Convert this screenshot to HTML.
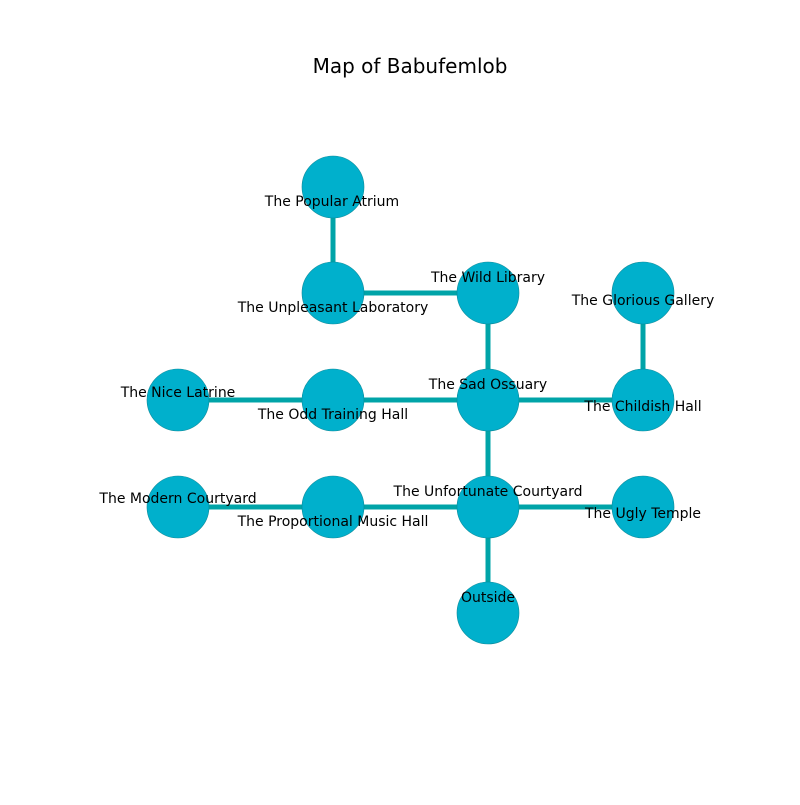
<!DOCTYPE html>
<html><head><meta charset="utf-8"><style>body{margin:0;background:#fff}</style></head><body>
<svg width="800" height="800" xmlns="http://www.w3.org/2000/svg" font-family="DejaVu Sans, Liberation Sans, sans-serif">
<rect width="800" height="800" fill="#fff"/>
<text x="410" y="73" font-size="20" text-anchor="middle">Map of Babufemlob</text>
<g stroke="#00a4a8" stroke-width="5">
<line x1="333" y1="187" x2="333" y2="293"/>
<line x1="333" y1="293" x2="488" y2="293"/>
<line x1="488" y1="293" x2="488" y2="400"/>
<line x1="643" y1="293" x2="643" y2="400"/>
<line x1="178" y1="400" x2="643" y2="400"/>
<line x1="488" y1="400" x2="488" y2="613"/>
<line x1="178" y1="507" x2="643" y2="507"/>
</g>
<g fill="#00b0cc" stroke="#0a8a9a" stroke-width="0.6">
<circle cx="333" cy="187" r="31"/><circle cx="333" cy="293" r="31"/><circle cx="488" cy="293" r="31"/><circle cx="643" cy="293" r="31"/>
<circle cx="178" cy="400" r="31"/><circle cx="333" cy="400" r="31"/><circle cx="488" cy="400" r="31"/><circle cx="643" cy="400" r="31"/>
<circle cx="178" cy="507" r="31"/><circle cx="333" cy="507" r="31"/><circle cx="488" cy="507" r="31"/><circle cx="643" cy="507" r="31"/>
<circle cx="488" cy="613" r="31"/>
</g>
<g font-size="14" text-anchor="middle" fill="#000">
<text x="332" y="206">The Popular Atrium</text>
<text x="333" y="312">The Unpleasant Laboratory</text>
<text x="488" y="282">The Wild Library</text>
<text x="643" y="305">The Glorious Gallery</text>
<text x="178" y="397">The Nice Latrine</text>
<text x="333" y="419">The Odd Training Hall</text>
<text x="488" y="389">The Sad Ossuary</text>
<text x="643" y="411">The Childish Hall</text>
<text x="178" y="503">The Modern Courtyard</text>
<text x="333" y="526">The Proportional Music Hall</text>
<text x="488" y="496">The Unfortunate Courtyard</text>
<text x="643" y="518">The Ugly Temple</text>
<text x="488" y="602">Outside</text>
</g>
</svg>
</body></html>
